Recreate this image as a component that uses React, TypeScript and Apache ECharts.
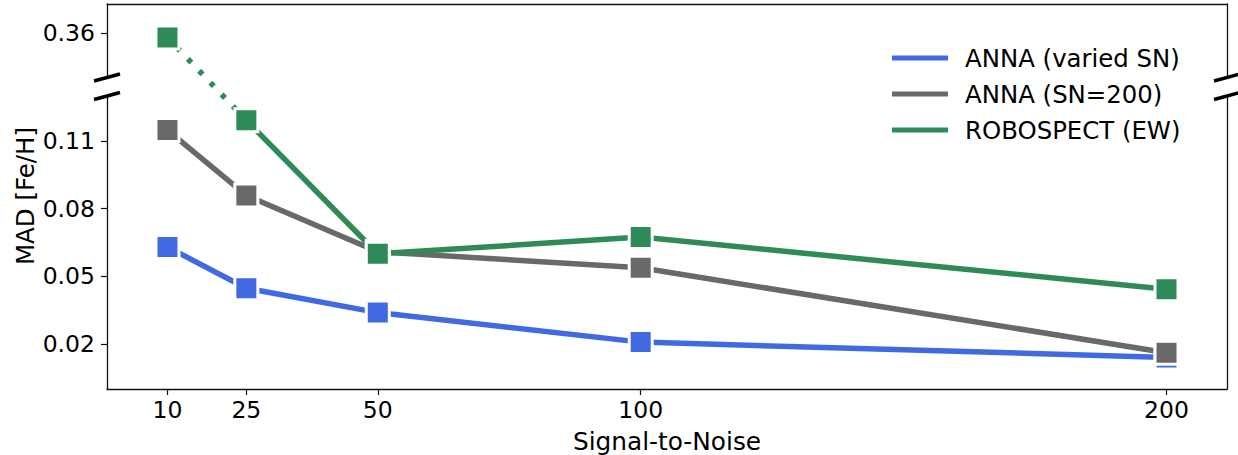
import React, { useEffect, useRef } from "react";
import * as echarts from "echarts";

// Signal-to-noise levels on the x axis
const snr = [10, 25, 50, 100, 200];

// Median absolute deviation of [Fe/H] for each method
const annaVaried = [0.063, 0.0447, 0.0339, 0.0208, 0.014];
const annaSn200 = [0.1149, 0.0859, 0.0609, 0.0538, 0.0161];
const robospect = [0.3586, 0.1192, 0.06, 0.0674, 0.0443];

// Tick labels
const xTicks = [10, 25, 50, 100, 200];
const lowerTicks = [0.02, 0.05, 0.08, 0.11];
const upperTicks = [0.36];

// Axis extents of the two panels of the broken y axis
const xRange = [-1.5, 211.5];
const upperRange = [0.345, 0.37];
const lowerRange = [0, 0.13];

const FONT = '"DejaVu Sans", sans-serif';
const BLUE = "#4169E1";
const GRAY = "#696969";
const GREEN = "#2E8B57";
const SPINE = "#111";

const pairs = (vals: number[]) => snr.map((x, i) => [x, vals[i]]);
const inRange = (pts: number[][], r: number[]) =>
  pts.filter((p) => p[1] >= r[0] && p[1] <= r[1]);

export default function App() {
  const ref = useRef<HTMLDivElement>(null);

  useEffect(() => {
    if (!ref.current) return;
    const chart = echarts.init(ref.current, undefined, { renderer: "svg" });

    const spineOnly = (gridIndex: number, range: number[], position: string) => ({
      type: "value",
      gridIndex,
      position,
      min: range[0],
      max: range[1],
      axisLine: { show: true, onZero: false, lineStyle: { color: SPINE, width: 1.3 } },
      axisTick: { show: false },
      axisLabel: { show: false },
      splitLine: { show: false },
    });

    const tickAxisCommon = {
      axisLine: { show: true, onZero: false, lineStyle: { color: SPINE, width: 1.3 } },
      axisTick: { show: true, length: 6, lineStyle: { color: SPINE, width: 1.2 } },
      splitLine: { show: false },
    };

    const tickLabel = {
      fontSize: 23.5,
      color: "#000",
      fontFamily: FONT,
    };

    const lineSeries = (
      name: string,
      color: string,
      data: number[][],
      xAxisIndex: number,
      yAxisIndex: number
    ) => ({
      name,
      type: "line",
      xAxisIndex,
      yAxisIndex,
      data,
      silent: true,
      symbol: "rect",
      symbolSize: 23,
      color,
      lineStyle: { color, width: 5.5 },
      itemStyle: { color, borderColor: "#fff", borderWidth: 3 },
      emphasis: { disabled: true },
    });

    chart.setOption({
      animation: false,
      textStyle: { fontFamily: FONT },
      grid: [
        { left: 107, right: 11, top: 4, height: 73.5, outerBoundsMode: "none", containLabel: false },
        { left: 107, right: 11, top: 96, height: 293, outerBoundsMode: "none", containLabel: false },
      ],
      xAxis: [
        spineOnly(0, xRange, "top"),
        {
          type: "value",
          gridIndex: 1,
          position: "bottom",
          min: xRange[0],
          max: xRange[1],
          ...tickAxisCommon,
          axisTick: { ...tickAxisCommon.axisTick, customValues: xTicks },
          axisLabel: { ...tickLabel, customValues: xTicks, margin: 9 },
          name: "Signal-to-Noise",
          nameLocation: "middle",
          nameGap: 40,
          nameTextStyle: { fontSize: 24.8, color: "#000", fontFamily: FONT },
        },
      ],
      yAxis: [
        {
          type: "value",
          gridIndex: 0,
          position: "left",
          min: upperRange[0],
          max: upperRange[1],
          ...tickAxisCommon,
          axisTick: { ...tickAxisCommon.axisTick, customValues: upperTicks },
          axisLabel: {
            ...tickLabel,
            customValues: upperTicks,
            margin: 12,
            formatter: (v: number) => v.toFixed(2),
          },
        },
        spineOnly(0, upperRange, "right"),
        {
          type: "value",
          gridIndex: 1,
          position: "left",
          min: lowerRange[0],
          max: lowerRange[1],
          ...tickAxisCommon,
          axisTick: { ...tickAxisCommon.axisTick, customValues: lowerTicks },
          axisLabel: {
            ...tickLabel,
            customValues: lowerTicks,
            margin: 12,
            formatter: (v: number) => v.toFixed(2),
          },
        },
        spineOnly(1, lowerRange, "right"),
      ],
      legend: {
        orient: "vertical",
        left: 892,
        top: 44,
        padding: 0,
        itemGap: 8,
        itemWidth: 56,
        itemHeight: 5,
        icon: "rect",
        itemStyle: { borderWidth: 0 },
        textStyle: {
          fontSize: 24.4,
          lineHeight: 28,
          color: "#000",
          fontFamily: FONT,
          padding: [0, 0, 0, 12],
        },
        data: ["ANNA (varied SN)", "ANNA (SN=200)", "ROBOSPECT (EW)"],
        selectedMode: false,
      },
      series: [
        lineSeries("ANNA (varied SN)", BLUE, inRange(pairs(annaVaried), lowerRange), 1, 2),
        lineSeries("ANNA (SN=200)", GRAY, inRange(pairs(annaSn200), lowerRange), 1, 2),
        lineSeries("ROBOSPECT (EW)", GREEN, inRange(pairs(robospect), lowerRange), 1, 2),
        lineSeries("ROBOSPECT (EW)", GREEN, inRange(pairs(robospect), upperRange), 0, 0),
      ],
    });

    // Dotted connector for the ROBOSPECT segment that crosses the axis break
    const upperPts = inRange(pairs(robospect), upperRange);
    const lowerPts = inRange(pairs(robospect), lowerRange);
    const graphics: any[] = [];
    if (upperPts.length && lowerPts.length) {
      const a = chart.convertToPixel({ xAxisIndex: 0, yAxisIndex: 0 }, upperPts[upperPts.length - 1]) as number[];
      const b = chart.convertToPixel({ xAxisIndex: 1, yAxisIndex: 2 }, lowerPts[0]) as number[];
      graphics.push({
        type: "line",
        z: 1,
        silent: true,
        shape: { x1: a[0], y1: a[1], x2: b[0], y2: b[1] },
        style: { stroke: GREEN, lineWidth: 5.5, lineDash: [5, 11.3], lineDashOffset: 3 },
      });
    }

    // Diagonal break marks at the panel corners
    const corners = [
      chart.convertToPixel({ xAxisIndex: 0, yAxisIndex: 0 }, [xRange[0], upperRange[0]]),
      chart.convertToPixel({ xAxisIndex: 0, yAxisIndex: 0 }, [xRange[1], upperRange[0]]),
      chart.convertToPixel({ xAxisIndex: 1, yAxisIndex: 2 }, [xRange[0], lowerRange[1]]),
      chart.convertToPixel({ xAxisIndex: 1, yAxisIndex: 2 }, [xRange[1], lowerRange[1]]),
    ] as number[][];
    corners.forEach((c) => {
      graphics.push({
        type: "line",
        z: 10,
        silent: true,
        shape: { x1: c[0] - 13, y1: c[1] + 3.5, x2: c[0] + 13, y2: c[1] - 3.5 },
        style: { stroke: "#000", lineWidth: 3.5 },
      });
    });

    // Shared y-axis title spanning both panels
    graphics.push({
      type: "text",
      x: 25,
      y: 196,
      rotation: Math.PI / 2,
      silent: true,
      style: {
        text: "MAD [Fe/H]",
        font: `24.5px ${FONT}`,
        fill: "#000",
        align: "center",
        verticalAlign: "middle",
      },
    });

    chart.setOption({ graphic: graphics });

    return () => chart.dispose();
  }, []);

  return (
    <div
      ref={ref}
      style={{ position: "absolute", left: 0, top: 0, width: 1238, height: 455 }}
    />
  );
}
